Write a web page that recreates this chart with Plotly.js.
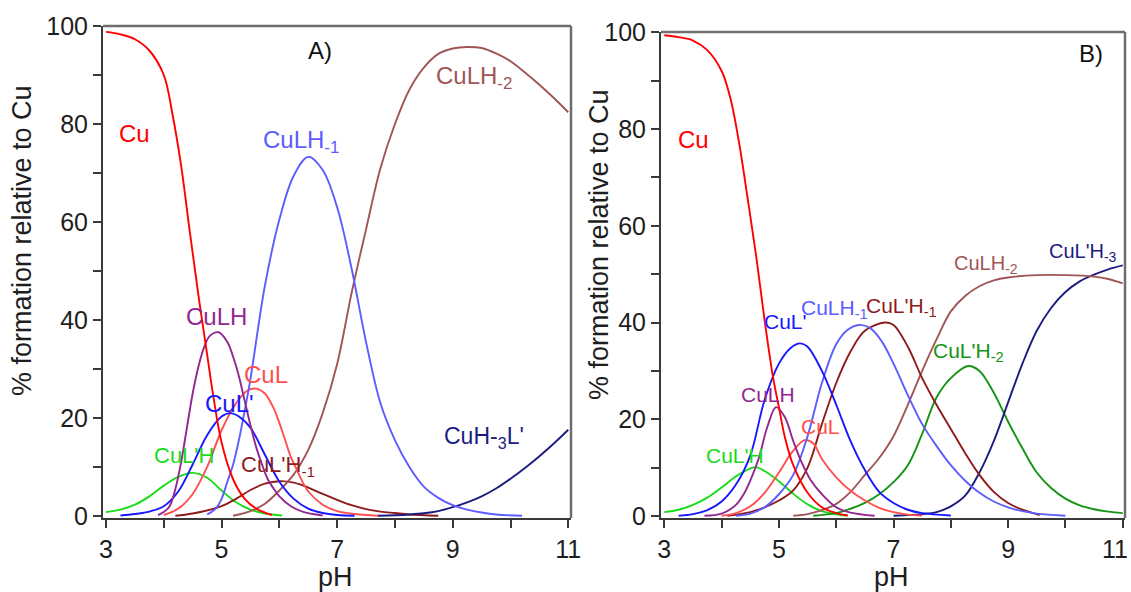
<!DOCTYPE html>
<html>
<head>
<meta charset="utf-8">
<script src="https://cdn.plot.ly/plotly-3.0.1.min.js"></script>
<style>
  html, body { margin: 0; padding: 0; background: #fff; }
  #chart { width: 1131px; height: 592px; }
</style>
</head>
<body>
<div id="chart"></div>
<script>
// ---------- Species distribution, system A ----------
const phA_Cu = [3.0, 3.25, 3.5, 3.75, 4.0, 4.15, 4.3, 4.45, 4.6, 4.75, 4.85, 5.0, 5.2, 5.4, 5.6, 5.87];
const A_Cu   = [98.8, 98.3, 97.3, 95, 90, 82, 71.5, 58, 45, 33, 25, 15, 7.5, 3.5, 1.5, 0.2];

const phA_CuLpH = [3.0, 3.25, 3.5, 3.75, 4.0, 4.25, 4.5, 4.75, 5.0, 5.25, 5.5, 5.75, 6.05];
const A_CuLpH   = [0.8, 1.3, 2.3, 4.0, 6.2, 8.0, 8.8, 7.8, 5.2, 2.8, 1.3, 0.5, 0.1];

const phA_CuLH = [3.9, 4.0, 4.1, 4.2, 4.3, 4.4, 4.5, 4.6, 4.7, 4.8, 4.95, 5.1, 5.2, 5.3, 5.4, 5.5, 5.6, 5.7, 5.8, 5.9, 6.0, 6.2, 6.4, 6.75];
const A_CuLH   = [0.2, 0.8, 2, 5.5, 11, 18, 25, 30.5, 34.5, 36.8, 37.5, 35.5, 32.5, 28.5, 23.5, 18.5, 14, 10.5, 7.5, 5.6, 4, 2, 0.9, 0.1];

const phA_CuLp = [3.25, 3.5, 3.75, 4.0, 4.25, 4.5, 4.75, 5.0, 5.15, 5.3, 5.5, 5.75, 6.0, 6.25, 6.5, 6.75, 7.0, 7.3];
const A_CuLp   = [0.1, 0.4, 0.9, 2, 5, 10.5, 16.5, 20.3, 21, 20.3, 18, 12.5, 7, 3.5, 1.5, 0.6, 0.2, 0.05];

const phA_CuL = [4.0, 4.25, 4.5, 4.75, 5.0, 5.25, 5.45, 5.6, 5.75, 5.9, 6.0, 6.1, 6.2, 6.3, 6.4, 6.5, 6.75, 7.0, 7.3, 7.7];
const A_CuL   = [0.2, 1.5, 4.5, 10, 17.5, 23, 25.6, 26, 25, 22, 19, 15.5, 12, 9.5, 7, 5, 2.3, 1, 0.4, 0.05];

const phA_CuLHm1 = [4.75, 4.9, 5.0, 5.1, 5.2, 5.3, 5.4, 5.5, 5.75, 6.0, 6.25, 6.5, 6.75, 7.0, 7.25, 7.5, 7.75, 8.0, 8.25, 8.5, 8.75, 9.0, 9.25, 9.5, 9.75, 10.2];
const A_CuLHm1   = [0.3, 1.5, 3.5, 7, 10.5, 15.5, 21.5, 28, 47, 60.5, 69.5, 73.3, 70.6, 63, 50.5, 35.5, 23, 15.5, 10, 6, 3.7, 2.2, 1.3, 0.7, 0.3, 0.05];

const phA_CuLpHm1 = [4.2, 4.5, 5.0, 5.25, 5.5, 5.75, 6.0, 6.25, 6.5, 6.75, 7.0, 7.25, 7.5, 7.75, 8.0, 8.25, 8.75];
const A_CuLpHm1   = [0.05, 0.5, 2, 3.5, 5.3, 6.6, 7.1, 6.8, 5.8, 4.5, 3.3, 2.2, 1.4, 0.9, 0.6, 0.3, 0.05];

const phA_CuLHm2 = [5.2, 5.5, 5.75, 6.0, 6.25, 6.5, 6.75, 7.0, 7.25, 7.5, 7.75, 8.0, 8.25, 8.5, 8.75, 9.0, 9.25, 9.5, 9.75, 10.0, 10.25, 10.5, 10.75, 11.0];
const A_CuLHm2   = [0.05, 1, 2.5, 5.2, 8.5, 13.5, 21, 31, 45.5, 58.5, 71, 80, 87, 91.5, 94.3, 95.4, 95.7, 95.5, 94.4, 92.8, 90.5, 88, 85.3, 82.4];

const phA_CuHm3Lp = [7.7, 8.0, 8.25, 8.5, 8.75, 9.0, 9.25, 9.5, 9.75, 10.0, 10.25, 10.5, 10.75, 11.0];
const A_CuHm3Lp   = [0.05, 0.15, 0.3, 0.55, 1, 1.8, 2.8, 4, 5.6, 7.6, 9.8, 12.2, 14.8, 17.6];

// ---------- Species distribution, system B ----------
const phB_Cu = [3.0, 3.25, 3.5, 3.75, 4.0, 4.15, 4.3, 4.45, 4.6, 4.75, 4.9, 5.0, 5.1, 5.25, 5.5, 5.75, 6.0, 6.2];
const B_Cu   = [99.4, 99, 98.3, 96.3, 92, 86.5, 77.5, 66, 54, 40.5, 28.5, 22.5, 16.5, 10.5, 4.8, 1.8, 0.6, 0.1];

const phB_CuLpH = [3.0, 3.25, 3.5, 3.75, 4.0, 4.25, 4.5, 4.6, 4.75, 5.0, 5.25, 5.5, 5.75, 6.0, 6.2];
const B_CuLpH   = [0.8, 1.3, 2.3, 3.8, 5.9, 8.2, 9.8, 10.1, 9.3, 7.2, 4.6, 2.4, 1, 0.35, 0.1];

const phB_CuLH = [3.7, 4.0, 4.25, 4.4, 4.5, 4.65, 4.8, 4.95, 5.1, 5.25, 5.4, 5.55, 5.75, 6.0, 6.25, 6.67];
const B_CuLH   = [0.05, 0.5, 2.3, 4.8, 7.3, 12, 18.5, 22.5, 20.5, 15.5, 11, 7.5, 4.5, 1.8, 0.7, 0.05];

const phB_CuLp = [3.25, 3.5, 3.75, 4.0, 4.25, 4.5, 4.75, 5.0, 5.2, 5.37, 5.5, 5.75, 6.0, 6.25, 6.5, 6.75, 7.0, 7.25, 7.5, 8.0];
const B_CuLp   = [0.05, 0.4, 1.2, 3, 6.5, 12.5, 24, 31.5, 34.7, 35.7, 35, 30, 23, 15.5, 9.5, 5, 2.7, 1.3, 0.6, 0.1];

const phB_CuL = [4.0, 4.25, 4.5, 4.75, 5.0, 5.25, 5.45, 5.6, 5.75, 6.0, 6.25, 6.5, 6.75, 7.0, 7.25, 7.5];
const B_CuL   = [0.05, 0.6, 2, 4.8, 9, 13.5, 15.7, 15, 11.8, 8, 5.2, 3.2, 1.7, 0.8, 0.3, 0.1];

const phB_CuLHm1 = [4.25, 4.5, 4.75, 5.0, 5.25, 5.5, 5.75, 6.0, 6.2, 6.4, 6.6, 6.8, 7.0, 7.25, 7.5, 7.75, 8.0, 8.25, 8.5, 8.75, 9.0, 9.25, 9.5, 10.0];
const B_CuLHm1   = [0.05, 0.5, 1.8, 4.5, 8.5, 16.5, 27.5, 35.5, 38.5, 39.5, 38.8, 36, 31.5, 25, 19, 14.5, 10.5, 7.3, 4.8, 3, 1.8, 1, 0.5, 0.05];

const phB_CuLpHm1 = [4.1, 4.5, 4.75, 5.0, 5.25, 5.5, 5.75, 6.0, 6.25, 6.5, 6.85, 7.0, 7.25, 7.5, 7.75, 8.0, 8.25, 8.5, 8.75, 9.0, 9.25, 9.55];
const B_CuLpHm1   = [0.05, 0.8, 1.8, 3.2, 5.3, 10, 19, 27.5, 34, 38.3, 40, 39.5, 35, 28.5, 23, 18, 13, 8.5, 5, 2.7, 1.3, 0.2];

const phB_CuLHm2 = [5.25, 5.5, 5.75, 6.0, 6.25, 6.5, 6.75, 7.0, 7.25, 7.5, 7.75, 8.0, 8.25, 8.5, 8.75, 9.0, 9.5, 10.0, 10.5, 10.75, 11.0];
const B_CuLHm2   = [0.05, 0.4, 1.2, 2.5, 5, 8.5, 12, 16.5, 23, 30, 36.5, 42.3, 45.5, 47.5, 48.7, 49.3, 49.8, 49.8, 49.5, 49, 48.1];

const phB_CuLpHm2 = [5.6, 6.0, 6.25, 6.5, 6.75, 7.0, 7.25, 7.5, 7.75, 8.0, 8.3, 8.5, 8.75, 9.0, 9.25, 9.5, 9.75, 10.0, 10.25, 10.5, 10.75, 11.0];
const B_CuLpHm2   = [0.05, 0.6, 1.5, 2.7, 4.5, 7, 10.5, 17, 24.5, 28.5, 31, 30, 25.5, 19.5, 14, 9, 5.8, 3.6, 2.2, 1.4, 0.9, 0.6];

const phB_CuLpHm3 = [7.0, 7.5, 7.75, 8.0, 8.25, 8.5, 8.75, 9.0, 9.25, 9.5, 9.75, 10.0, 10.25, 10.5, 10.75, 11.0];
const B_CuLpHm3   = [0.05, 0.4, 0.8, 2, 4.2, 9, 15.5, 23.5, 31.5, 38.3, 43, 46.3, 48.5, 49.9, 51, 51.8];

// ---------- axis ticks ----------
const yTickVals = [0, 20, 40, 60, 80, 100];
const yTickText = ['0', '20', '40', '60', '80', '100'];
const yMinorVals = [10, 30, 50, 70, 90];
const xTickVals = [3, 5, 7, 9, 11];
const xTickText = ['3', '5', '7', '9', '11'];
const xMinorVals = [4, 6, 8, 10];

// ---------- colours ----------
const C = {
  cu: '#ff0000',
  lightGreen: '#18dc18',
  purple: '#92278f',
  blue: '#1818ff',
  lightRed: '#ff5050',
  lightBlue: '#5c5cff',
  maroon: '#8e1b1b',
  brown: '#a05656',
  navy: '#1c1c80',
  green: '#159415'
};

const FONT = 'Liberation Sans, Arial, Helvetica, sans-serif';
const W = 1131, H = 592;

function curve(x, y, color, ax) {
  return {
    x: x, y: y, type: 'scatter', mode: 'lines',
    xaxis: ax === 2 ? 'x2' : 'x', yaxis: ax === 2 ? 'y2' : 'y',
    line: { color: color, width: 1.9, shape: 'spline', smoothing: 1 },
    hoverinfo: 'skip', showlegend: false
  };
}

const traces = [
  curve(phA_CuLpH, A_CuLpH, C.lightGreen, 1),
  curve(phA_CuLpHm1, A_CuLpHm1, C.maroon, 1),
  curve(phA_CuHm3Lp, A_CuHm3Lp, C.navy, 1),
  curve(phA_CuLHm2, A_CuLHm2, C.brown, 1),
  curve(phA_CuL, A_CuL, C.lightRed, 1),
  curve(phA_CuLHm1, A_CuLHm1, C.lightBlue, 1),
  curve(phA_CuLp, A_CuLp, C.blue, 1),
  curve(phA_CuLH, A_CuLH, C.purple, 1),
  curve(phA_Cu, A_Cu, C.cu, 1),

  curve(phB_CuLpH, B_CuLpH, C.lightGreen, 2),
  curve(phB_CuLpHm2, B_CuLpHm2, C.green, 2),
  curve(phB_CuLpHm3, B_CuLpHm3, C.navy, 2),
  curve(phB_CuLHm2, B_CuLHm2, C.brown, 2),
  curve(phB_CuLpHm1, B_CuLpHm1, C.maroon, 2),
  curve(phB_CuL, B_CuL, C.lightRed, 2),
  curve(phB_CuLHm1, B_CuLHm1, C.lightBlue, 2),
  curve(phB_CuLp, B_CuLp, C.blue, 2),
  curve(phB_CuLH, B_CuLH, C.purple, 2),
  curve(phB_Cu, B_Cu, C.cu, 2)
];

const TICK_COLOR = '#3a3a3a';
const TICK_FONT = { family: FONT, size: 25, color: '#1e1e1e' };

function axisBase(domain, range, anchor, vals, text, minorVals) {
  return {
    domain: domain, range: range, anchor: anchor,
    tickmode: 'array', tickvals: vals, ticktext: text,
    ticks: 'outside', ticklen: 8, tickwidth: 2, tickcolor: TICK_COLOR,
    minor: { tickmode: 'array', tickvals: minorVals, ticks: 'outside',
             ticklen: 8, tickwidth: 2, tickcolor: TICK_COLOR, showgrid: false },
    tickfont: TICK_FONT,
    showline: true, linecolor: TICK_COLOR, linewidth: 2,
    showgrid: false, zeroline: false, fixedrange: true, automargin: false
  };
}

// species labels, placed in data coordinates of each panel
function label(text, x, y, color, ax, size) {
  return {
    text: text, x: x, y: y,
    xref: ax === 2 ? 'x2' : 'x', yref: ax === 2 ? 'y2' : 'y',
    xanchor: 'left', yanchor: 'middle', showarrow: false,
    font: { family: FONT, size: size, color: color }
  };
}
function paperText(text, x, y, size, angle, anchor) {
  return {
    text: text, x: x / W, y: 1 - y / H, xref: 'paper', yref: 'paper',
    xanchor: anchor || 'center', yanchor: 'middle', showarrow: false, textangle: angle || 0,
    font: { family: FONT, size: size, color: '#1e1e1e' }
  };
}

const lastX = xTickVals.length - 1;

const annotations = [
  label('A)', 6.46, 95.1, '#111', 1, 24),
  label('Cu', 3.19, 78, C.cu, 1, 24),
  label('CuLH<sub>-2</sub>', 8.67, 89.4, C.brown, 1, 24),
  label('CuLH<sub>-1</sub>', 5.68, 76.5, C.lightBlue, 1, 24),
  label('CuLH', 4.35, 40.8, C.purple, 1, 24),
  label('CuL', 5.35, 28.8, C.lightRed, 1, 24),
  label("CuL'", 4.68, 23, C.blue, 1, 24),
  label("CuL'H", 3.79, 12.4, C.lightGreen, 1, 22),
  label("CuL'H<sub>-1</sub>", 5.30, 10.2, C.maroon, 1, 22),
  label("CuH-<sub>3</sub>L'", 8.81, 16.1, C.navy, 1, 23),

  label('B)', 10.2, 95.7, '#111', 2, 24),
  label('Cu', 3.2, 77.9, C.cu, 2, 24),
  label("CuL'H", 3.69, 12.6, C.lightGreen, 2, 21),
  label('CuLH', 4.30, 25.2, C.purple, 2, 21),
  label('CuL', 5.35, 18.6, C.lightRed, 2, 21),
  label("CuL'", 4.70, 40.3, C.blue, 2, 21),
  label('CuLH<sub>-1</sub>', 5.35, 42.8, C.lightBlue, 2, 21),
  label("CuL'H<sub>-1</sub>", 6.48, 43.2, C.maroon, 2, 21),
  label('CuLH<sub>-2</sub>', 8.02, 52.1, C.brown, 2, 20),
  label("CuL'H<sub>-3</sub>", 9.68, 54.5, C.navy, 2, 20),
  label("CuL'H<sub>-2</sub>", 7.65, 33.9, C.green, 2, 21),

  // last pH label of panel B, pulled in so it stays inside the page edge
  paperText(xTickText[lastX], 1130, 549, TICK_FONT.size, 0, 'right'),

  paperText('% formation relative to Cu', 22, 241, 27, -90),
  paperText('% formation relative to Cu', 599, 245, 27, -90),
  paperText('pH', 335, 577, 27, 0),
  paperText('pH', 891, 577, 27, 0)
];

// top and right frame edges of both panels
function frameEdges(xd, yd) {
  const st = { color: '#6e6e6e', width: 2.5 };
  return [
    { type: 'line', xref: xd, yref: yd, x0: 0, x1: 1, y0: 1, y1: 1, line: st },
    { type: 'line', xref: xd, yref: yd, x0: 1, x1: 1, y0: 0, y1: 1, line: st }
  ];
}

const layout = {
  width: W, height: H,
  margin: { l: 0, r: 0, t: 0, b: 0 },
  paper_bgcolor: '#ffffff', plot_bgcolor: '#ffffff',
  showlegend: false,
  xaxis: axisBase([103 / W, 571 / W], [2.948, 11.047], 'y', xTickVals, xTickText, xMinorVals),
  yaxis: axisBase([1 - 518 / H, 1 - 26 / H], [-0.41, 100], 'x', yTickVals, yTickText, yMinorVals),
  xaxis2: axisBase([661 / W, 1125 / W], [2.942, 11.04], 'y2',
                   xTickVals.slice(0, lastX), xTickText.slice(0, lastX),
                   xMinorVals.concat([xTickVals[lastX]])),
  yaxis2: axisBase([1 - 518 / H, 1 - 32 / H], [-0.41, 100.06], 'x2', yTickVals, yTickText, yMinorVals),
  annotations: annotations,
  shapes: frameEdges('x domain', 'y domain').concat(frameEdges('x2 domain', 'y2 domain'))
};

Plotly.newPlot('chart', traces, layout, { staticPlot: true, displayModeBar: false });
</script>
</body>
</html>
